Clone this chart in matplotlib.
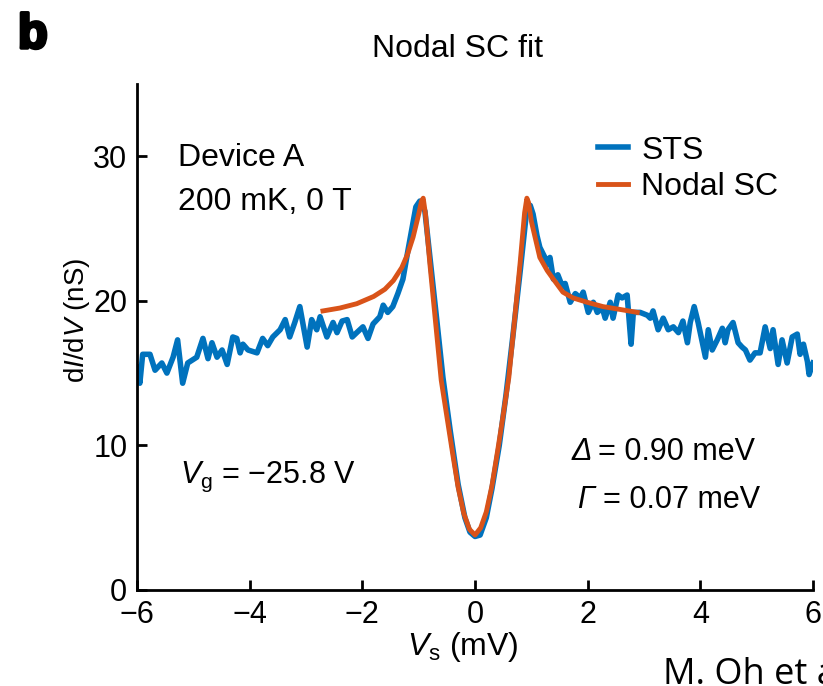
import matplotlib
matplotlib.use("Agg")
import matplotlib.pyplot as plt
import matplotlib.patheffects as pe

# STS trace (V_s in mV, dI/dV in nS)
v_sts = [-6.00, -5.95, -5.90, -5.77, -5.68, -5.56, -5.47, -5.36, -5.28, -5.19,
         -5.10, -4.94, -4.83, -4.74, -4.67, -4.58, -4.49, -4.40, -4.30, -4.23,
         -4.17, -4.12, -4.03, -3.87, -3.77, -3.68, -3.59, -3.46, -3.37, -3.29,
         -3.20, -3.11, -2.98, -2.90, -2.81, -2.75, -2.63, -2.52, -2.45, -2.36,
         -2.27, -2.18, -2.10, -1.99, -1.90, -1.81, -1.69, -1.63, -1.55, -1.46,
         -1.37, -1.28, -1.19, -1.12, -1.05, -0.98, -0.89, -0.80, -0.68, -0.57,
         -0.44, -0.30, -0.18, -0.09, 0.00, 0.09, 0.20, 0.30, 0.43, 0.55,
         0.67, 0.80, 0.91, 0.98, 1.03, 1.10, 1.15, 1.24, 1.30, 1.33,
         1.39, 1.47, 1.55, 1.60, 1.69, 1.78, 1.87, 1.92, 2.01, 2.10,
         2.17, 2.26, 2.31, 2.40, 2.45, 2.54, 2.61, 2.70, 2.77, 2.81,
         2.93, 3.06, 3.11, 3.16, 3.25, 3.34, 3.43, 3.52, 3.61, 3.69,
         3.77, 3.82, 3.89, 3.96, 4.09, 4.14, 4.21, 4.30, 4.39, 4.44,
         4.49, 4.58, 4.67, 4.74, 4.80, 4.88, 4.97, 5.06, 5.15, 5.24,
         5.29, 5.38, 5.45, 5.54, 5.63, 5.72, 5.77, 5.83, 5.90, 5.93, 6.00]
g_sts = [15.4, 14.3, 16.3, 16.3, 15.2, 15.7, 15.0, 16.1, 17.3, 14.3,
         15.7, 16.1, 17.4, 16.0, 17.1, 16.1, 16.6, 15.6, 17.5, 17.4,
         16.4, 17.0, 16.6, 16.4, 17.4, 16.9, 17.5, 18.0, 18.7, 17.5,
         18.5, 19.6, 16.8, 18.7, 18.0, 18.9, 17.5, 18.5, 17.8, 18.6,
         18.7, 17.5, 17.8, 18.2, 17.4, 18.4, 18.9, 19.7, 19.2, 19.6,
         20.5, 21.5, 23.5, 25.0, 26.5, 26.9, 26.2, 23.0, 18.7, 14.7,
         11.0, 7.3, 5.0, 4.0, 3.7, 3.8, 5.0, 7.0, 10.0, 13.5,
         17.5, 22.0, 26.0, 26.6, 26.0, 24.5, 23.7, 23.0, 22.5, 23.0,
         21.5, 21.8, 21.0, 21.2, 19.9, 20.5, 20.2, 20.6, 19.2, 19.9,
         19.2, 19.5, 18.8, 19.9, 18.8, 20.4, 20.2, 20.4, 17.0, 19.2,
         19.2, 19.0, 18.8, 19.3, 18.0, 18.8, 18.0, 18.2, 17.8, 18.6,
         17.1, 18.5, 19.6, 18.5, 16.1, 18.0, 16.6, 17.3, 18.1, 17.1,
         18.0, 18.5, 17.1, 16.8, 16.6, 15.9, 16.4, 16.4, 18.2, 16.7,
         18.0, 15.6, 17.3, 15.7, 17.5, 17.7, 16.3, 17.0, 15.8, 14.9, 15.7]

# nodal SC fit curve
v_fit = [-2.70, -2.40, -2.10, -1.80, -1.60, -1.45, -1.30, -1.20, -1.10, -1.00,
         -0.95, -0.92, -0.88, -0.80, -0.70, -0.60, -0.50, -0.40, -0.30, -0.20,
         -0.10, 0.00, 0.10, 0.20, 0.30, 0.40, 0.50, 0.60, 0.70, 0.80,
         0.88, 0.92, 0.95, 1.00, 1.15, 1.28, 1.39, 1.56, 1.74, 1.99,
         2.27, 2.58, 2.88]
g_fit = [19.3, 19.5, 19.8, 20.3, 20.8, 21.4, 22.3, 23.2, 24.4, 26.0,
         26.9, 27.1, 26.0, 22.5, 18.5, 14.5, 12.0, 9.5, 7.1, 5.3,
         4.2, 3.8, 4.3, 5.4, 7.2, 9.6, 12.1, 14.7, 18.6, 22.6,
         26.1, 27.1, 26.8, 25.5, 23.0, 22.1, 21.5, 20.6, 20.2, 19.9,
         19.6, 19.4, 19.2]

x_ticks = [-6, -4, -2, 0, 2, 4, 6]
y_ticks = [0, 10, 20, 30]

plt.rcParams['font.family'] = ['Liberation Sans', 'DejaVu Sans']
plt.rcParams['mathtext.fontset'] = 'custom'
plt.rcParams['mathtext.rm'] = 'Liberation Sans'
plt.rcParams['mathtext.it'] = 'Liberation Sans:italic'

fs = 23
fig = plt.figure(figsize=(8.23, 6.86), dpi=100)
ax = fig.add_axes([0.1665, 0.140, 0.8214, 0.7376])

ax.plot(v_sts, g_sts, color='#0072BD', lw=4, solid_joinstyle='round', label='STS')
ax.plot(v_fit, g_fit, color='#D95319', lw=3.5, solid_joinstyle='round', label='Nodal SC')

ax.set_xlim(-6, 6)
ax.set_ylim(0, 35)
ax.set_xticks(x_ticks)
ax.set_yticks(y_ticks)
ax.spines['top'].set_visible(False)
ax.spines['right'].set_visible(False)
for s in ['left', 'bottom']:
    ax.spines[s].set_linewidth(2)
ax.tick_params(direction='in', length=7, width=2, labelsize=fs - 1, pad=7)

ax.set_xlabel(r'$V_{\mathrm{s}}$ (mV)', fontsize=fs)
ax.set_ylabel(r'd$I$/d$V$ (nS)', fontsize=20)
ax.xaxis.set_label_coords(0.482, -0.08)
ax.yaxis.set_label_coords(-0.066, 0.532)

ax.text(-5.27, 29.3, 'Device A', fontsize=fs, va='baseline')
ax.text(-5.27, 26.3, '200 mK, 0 T', fontsize=fs, va='baseline')
ax.text(-5.24, 7.4, r'$V_{\mathrm{g}}$ = −25.8 V', fontsize=fs - 1, va='baseline')
ax.text(1.72, 9.0, 'Δ', fontsize=fs - 1, style='italic', va='baseline')
ax.text(2.18, 9.0, '= 0.90 meV', fontsize=fs - 1, va='baseline')
ax.text(1.81, 5.7, 'Γ', fontsize=fs - 1, style='italic', va='baseline')
ax.text(2.27, 5.7, '= 0.07 meV', fontsize=fs - 1, va='baseline')

ax.legend(frameon=False, loc='upper left', bbox_to_anchor=(0.682, 0.898),
          handlelength=0.95, handletextpad=0.4, labelspacing=0.2,
          borderpad=0, borderaxespad=0, fontsize=fs)

fig.text(457 / 823, 1 - 57 / 686, 'Nodal SC fit', fontsize=fs, ha='center', va='baseline')
fig.text(18 / 823, 1 - 48 / 686, 'b', fontsize=35, fontweight='bold', va='baseline',
         path_effects=[pe.withStroke(linewidth=2.5, foreground='black')])
fig.text(663 / 823, 0.003, 'M. Oh et al.', fontsize=26, family='Open Sans', va='baseline')

fig.savefig('out.png', dpi=100)
